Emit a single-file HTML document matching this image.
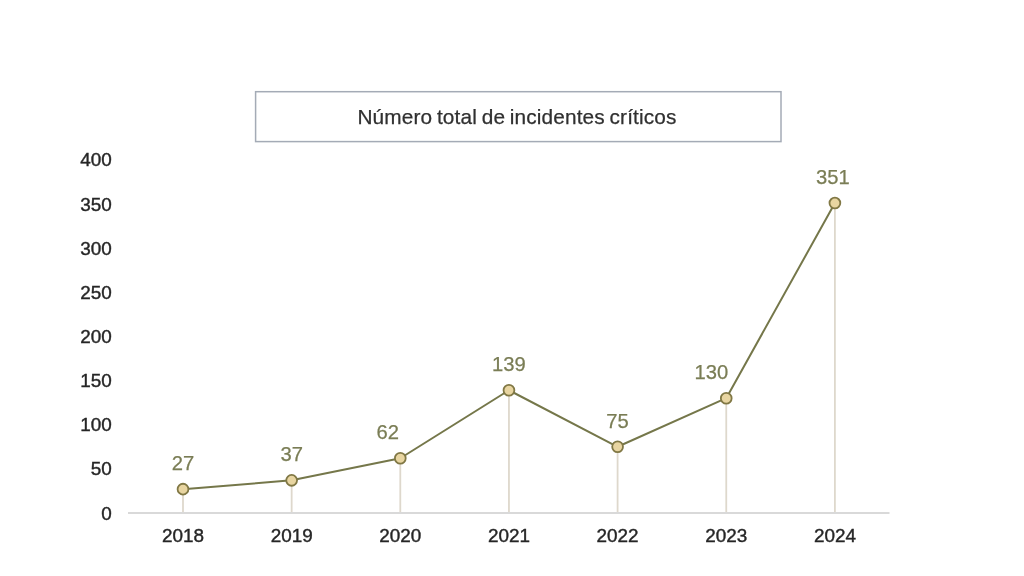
<!DOCTYPE html>
<html><head><meta charset="utf-8"><style>
html,body{margin:0;padding:0;background:#fff;width:1024px;height:576px;overflow:hidden}
svg{display:block;filter:blur(0.3px)}
.ax{font-family:"Liberation Sans",sans-serif;font-size:18.9px;fill:#262626;stroke:#262626;stroke-width:0.4px}
.lb{font-family:"Liberation Sans",sans-serif;font-size:20.2px;fill:#7a7d55;stroke:#7a7d55;stroke-width:0.25px}
.tt{font-family:"Liberation Sans",sans-serif;font-size:20.8px;fill:#303030;stroke:#303030;stroke-width:0.25px;word-spacing:-1.2px;letter-spacing:0.14px}
</style></head><body>
<svg width="1024" height="576" viewBox="0 0 1024 576">
<rect x="255.6" y="91.7" width="525.4" height="49.9" fill="#fff" stroke="#a4abb6" stroke-width="1.5"/>
<text x="517" y="123.6" text-anchor="middle" class="tt">Número total de incidentes críticos</text>
<text x="111.8" y="519.60" text-anchor="end" class="ax">0</text>
<text x="111.8" y="475.45" text-anchor="end" class="ax">50</text>
<text x="111.8" y="431.30" text-anchor="end" class="ax">100</text>
<text x="111.8" y="387.15" text-anchor="end" class="ax">150</text>
<text x="111.8" y="343.00" text-anchor="end" class="ax">200</text>
<text x="111.8" y="298.85" text-anchor="end" class="ax">250</text>
<text x="111.8" y="254.70" text-anchor="end" class="ax">300</text>
<text x="111.8" y="210.55" text-anchor="end" class="ax">350</text>
<text x="111.8" y="166.40" text-anchor="end" class="ax">400</text>
<line x1="183.00" y1="489.16" x2="183.00" y2="513.00" stroke="#ded8cc" stroke-width="1.8"/>
<line x1="291.65" y1="480.33" x2="291.65" y2="513.00" stroke="#ded8cc" stroke-width="1.8"/>
<line x1="400.30" y1="458.25" x2="400.30" y2="513.00" stroke="#ded8cc" stroke-width="1.8"/>
<line x1="508.95" y1="390.26" x2="508.95" y2="513.00" stroke="#ded8cc" stroke-width="1.8"/>
<line x1="617.60" y1="446.77" x2="617.60" y2="513.00" stroke="#ded8cc" stroke-width="1.8"/>
<line x1="726.25" y1="398.21" x2="726.25" y2="513.00" stroke="#ded8cc" stroke-width="1.8"/>
<line x1="834.90" y1="203.07" x2="834.90" y2="513.00" stroke="#ded8cc" stroke-width="1.8"/>
<line x1="128" y1="513.0" x2="889.5" y2="513.0" stroke="#d9d9d9" stroke-width="2"/>
<polyline points="183.00,489.16 291.65,480.33 400.30,458.25 508.95,390.26 617.60,446.77 726.25,398.21 834.90,203.07" fill="none" stroke="#75774a" stroke-width="2" stroke-linejoin="round"/>
<circle cx="183.00" cy="489.16" r="5.4" fill="#e8d5a1" stroke="#817845" stroke-width="1.8"/>
<circle cx="291.65" cy="480.33" r="5.4" fill="#e8d5a1" stroke="#817845" stroke-width="1.8"/>
<circle cx="400.30" cy="458.25" r="5.4" fill="#e8d5a1" stroke="#817845" stroke-width="1.8"/>
<circle cx="508.95" cy="390.26" r="5.4" fill="#e8d5a1" stroke="#817845" stroke-width="1.8"/>
<circle cx="617.60" cy="446.77" r="5.4" fill="#e8d5a1" stroke="#817845" stroke-width="1.8"/>
<circle cx="726.25" cy="398.21" r="5.4" fill="#e8d5a1" stroke="#817845" stroke-width="1.8"/>
<circle cx="834.90" cy="203.07" r="5.4" fill="#e8d5a1" stroke="#817845" stroke-width="1.8"/>
<text x="183.00" y="470.16" text-anchor="middle" class="lb">27</text>
<text x="291.65" y="461.33" text-anchor="middle" class="lb">37</text>
<text x="387.80" y="439.25" text-anchor="middle" class="lb">62</text>
<text x="508.95" y="371.26" text-anchor="middle" class="lb">139</text>
<text x="617.60" y="427.77" text-anchor="middle" class="lb">75</text>
<text x="711.45" y="379.21" text-anchor="middle" class="lb">130</text>
<text x="832.90" y="184.07" text-anchor="middle" class="lb">351</text>
<text x="183.00" y="541.70" text-anchor="middle" class="ax">2018</text>
<text x="291.65" y="541.70" text-anchor="middle" class="ax">2019</text>
<text x="400.30" y="541.70" text-anchor="middle" class="ax">2020</text>
<text x="508.95" y="541.70" text-anchor="middle" class="ax">2021</text>
<text x="617.60" y="541.70" text-anchor="middle" class="ax">2022</text>
<text x="726.25" y="541.70" text-anchor="middle" class="ax">2023</text>
<text x="834.90" y="541.70" text-anchor="middle" class="ax">2024</text>
</svg>
</body></html>
